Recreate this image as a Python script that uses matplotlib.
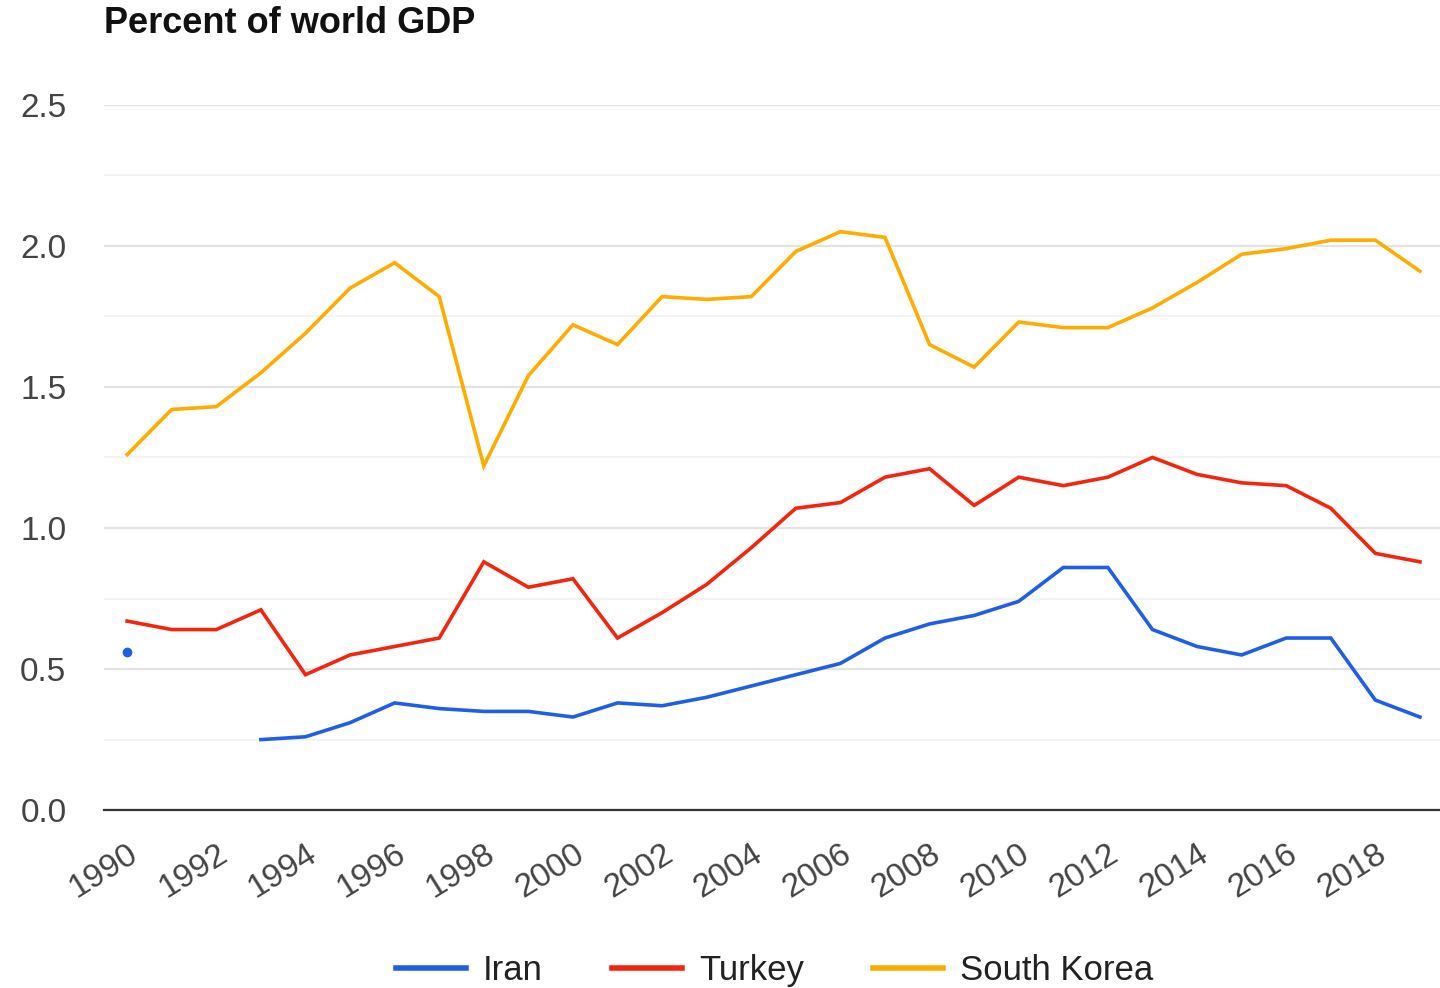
import numpy as np
import matplotlib
matplotlib.use("Agg")
import matplotlib.pyplot as plt

plt.rcParams['font.family'] = ['Liberation Sans', 'DejaVu Sans']

years = list(range(1990, 2020))

# percent of world GDP (nan = no data)
iran = [0.56, np.nan, np.nan, 0.25, 0.26, 0.31, 0.38, 0.36, 0.35, 0.35,
        0.33, 0.38, 0.37, 0.40, 0.44, 0.48, 0.52, 0.61, 0.66, 0.69,
        0.74, 0.86, 0.86, 0.64, 0.58, 0.55, 0.61, 0.61, 0.39, 0.33]
turkey = [0.67, 0.64, 0.64, 0.71, 0.48, 0.55, 0.58, 0.61, 0.88, 0.79,
          0.82, 0.61, 0.70, 0.80, 0.93, 1.07, 1.09, 1.18, 1.21, 1.08,
          1.18, 1.15, 1.18, 1.25, 1.19, 1.16, 1.15, 1.07, 0.91, 0.88]
south_korea = [1.26, 1.42, 1.43, 1.55, 1.69, 1.85, 1.94, 1.82, 1.22, 1.54,
               1.72, 1.65, 1.82, 1.81, 1.82, 1.98, 2.05, 2.03, 1.65, 1.57,
               1.73, 1.71, 1.71, 1.78, 1.87, 1.97, 1.99, 2.02, 2.02, 1.91]

series = ["Iran", "Turkey", "South Korea"]
colors = ["#1f5fe8", "#f4250c", "#ffab00"]

fig = plt.figure(figsize=(14.4, 9.88), dpi=100)
ax = fig.add_axes([0.0722, 0.180, 0.9278, 0.714])

for name, vals, c in zip(series, [iran, turkey, south_korea], colors):
    ax.plot(years, vals, color=c, lw=2.6, label=name, clip_on=False,
            solid_joinstyle='miter')

# isolated Iran point (neighbours missing)
ax.plot(years[:1], iran[:1], 'o', color=colors[0], ms=6, clip_on=False)

ax.set_xlim(1989.48, 2019.45)
ax.set_ylim(0, 2.5)

ax.set_yticks([0, 0.5, 1.0, 1.5, 2.0, 2.5])
ax.set_yticks([0.25, 0.75, 1.25, 1.75, 2.25], minor=True)
ax.set_yticklabels(["0.0", "0.5", "1.0", "1.5", "2.0", "2.5"])
ax.grid(axis='y', which='major', color='#e3e3e3', lw=1.6)
ax.grid(axis='y', which='minor', color='#f3f3f3', lw=1.4)
ax.set_axisbelow(True)

ax.set_xticks(years[::2])
ax.set_xticklabels([str(y) for y in years[::2]], rotation=32,
                   ha='right', va='top', rotation_mode='anchor')

for s in ['top', 'right', 'left']:
    ax.spines[s].set_visible(False)
ax.spines['bottom'].set_color('#333333')
ax.spines['bottom'].set_linewidth(1.6)

ax.tick_params(axis='y', which='both', length=0, pad=27, labelsize=24,
               labelcolor='#444444')
ax.tick_params(axis='x', length=0, pad=20, labelsize=24, labelcolor='#444444')

fig.text(0.0722, 0.976, "Percent of world GDP", fontsize=26, fontweight='bold',
         color='#111111', ha='left', va='center')

leg = fig.legend(*ax.get_legend_handles_labels(), loc='center',
                 bbox_to_anchor=(0.538, 0.018), ncol=3, frameon=False,
                 fontsize=25, handlelength=2.0, columnspacing=2.0,
                 handletextpad=0.5)
for line in leg.get_lines():
    line.set_linewidth(4)
for t in leg.get_texts():
    t.set_color('#222222')

fig.savefig("out.png", dpi=100)
